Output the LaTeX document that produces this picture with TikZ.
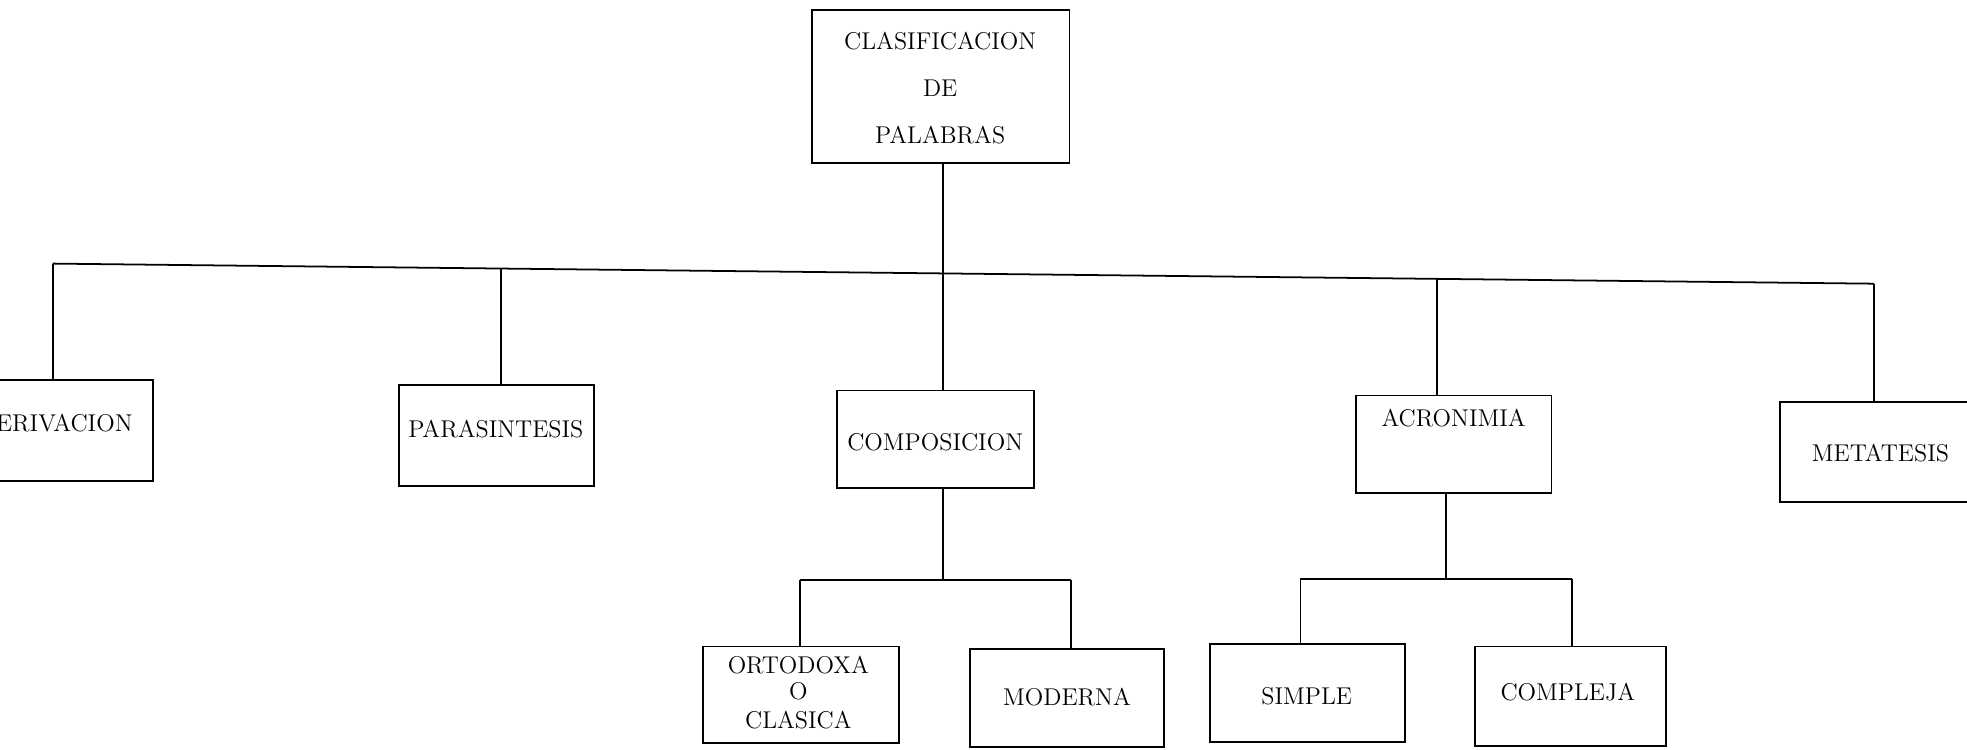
\documentclass[tikz,border=0pt]{standalone}
\begin{document}
\begin{tikzpicture}[x=0.02cm,y=-0.02cm,
  box/.style={draw, line width=0.8pt, inner sep=0pt},
  lbl/.style={inner sep=0pt, font=\fontsize{11}{13}\selectfont},
  conn/.style={line width=0.8pt}]
\useasboundingbox (0,0) rectangle (1567,597);
% boxes
\node[box, minimum width=4.10cm, minimum height=2.44cm] (top) at (749.5,69) {};
\node[box, minimum width=3.16cm, minimum height=1.60cm] (der) at (43,343) {};
\node[box, minimum width=3.10cm, minimum height=1.60cm] (par) at (395.5,347) {};
\node[box, minimum width=3.14cm, minimum height=1.56cm] (comp) at (745.5,350) {};
\node[box, minimum width=3.12cm, minimum height=1.56cm] (acr) at (1158,354) {};
\node[box, minimum width=3.12cm, minimum height=1.60cm] (met) at (1496,360) {};
\node[box, minimum width=3.12cm, minimum height=1.54cm] (ort) at (638,553.5) {};
\node[box, minimum width=3.08cm, minimum height=1.56cm] (mod) at (850,556) {};
\node[box, minimum width=3.10cm, minimum height=1.56cm] (sim) at (1041.5,552) {};
\node[box, minimum width=3.04cm, minimum height=1.58cm] (cpx) at (1251,554.5) {};
% labels
\node[lbl] (t1) at (749,33) {CLASIFICACION};
\node[lbl] (t2) at (749,70) {DE};
\node[lbl] (t3) at (749,108) {PALABRAS};
\node[lbl] (tder) at (44,337) {DERIVACION};
\node[lbl] (tpar) at (395,342) {PARASINTESIS};
\node[lbl] (tcomp) at (745,352) {COMPOSICION};
\node[lbl] (tacr) at (1158,333) {ACRONIMIA};
\node[lbl] (tmet) at (1498,361) {METATESIS};
\node[lbl] (to1) at (636,530) {ORTODOXA};
\node[lbl] (to2) at (636,551) {O};
\node[lbl] (to3) at (636,574) {CLASICA};
\node[lbl] (tmod) at (850,555) {MODERNA};
\node[lbl] (tsim) at (1041,555) {SIMPLE};
\node[lbl] (tcpx) at (1249,551) {COMPLEJA};
% level 1 bus
\coordinate (b1) at (42,210);
\coordinate (b2) at (399,214);
\coordinate (b3) at (751,218);
\coordinate (b4) at (1145,222);
\coordinate (b5) at (1493,226);
\draw[conn] (b1) -- (b5);
\draw[conn] (top.south -| b3) -- (b3);
\draw[conn] (b1) -- (der.north -| b1);
\draw[conn] (b2) -- (par.north -| b2);
\draw[conn] (b3) -- (comp.north -| b3);
\draw[conn] (b4) -- (acr.north -| b4);
\draw[conn] (b5) -- (met.north -| b5);
% level 2 buses
\coordinate (c1) at (637,462);
\coordinate (c2) at (751,462);
\coordinate (c3) at (853,462);
\draw[conn] (comp.south -| c2) -- (c2);
\draw[conn] (c1) -- (c3);
\draw[conn] (c1) -- (ort.north -| c1);
\draw[conn] (c3) -- (mod.north -| c3);
\coordinate (d1) at (1036,461);
\coordinate (d2) at (1152,461);
\coordinate (d3) at (1252,461);
\draw[conn] (acr.south -| d2) -- (d2);
\draw[conn] (d1) -- (d3);
\draw[conn] (d1) -- (sim.north -| d1);
\draw[conn] (d3) -- (cpx.north -| d3);
\end{tikzpicture}
\end{document}
